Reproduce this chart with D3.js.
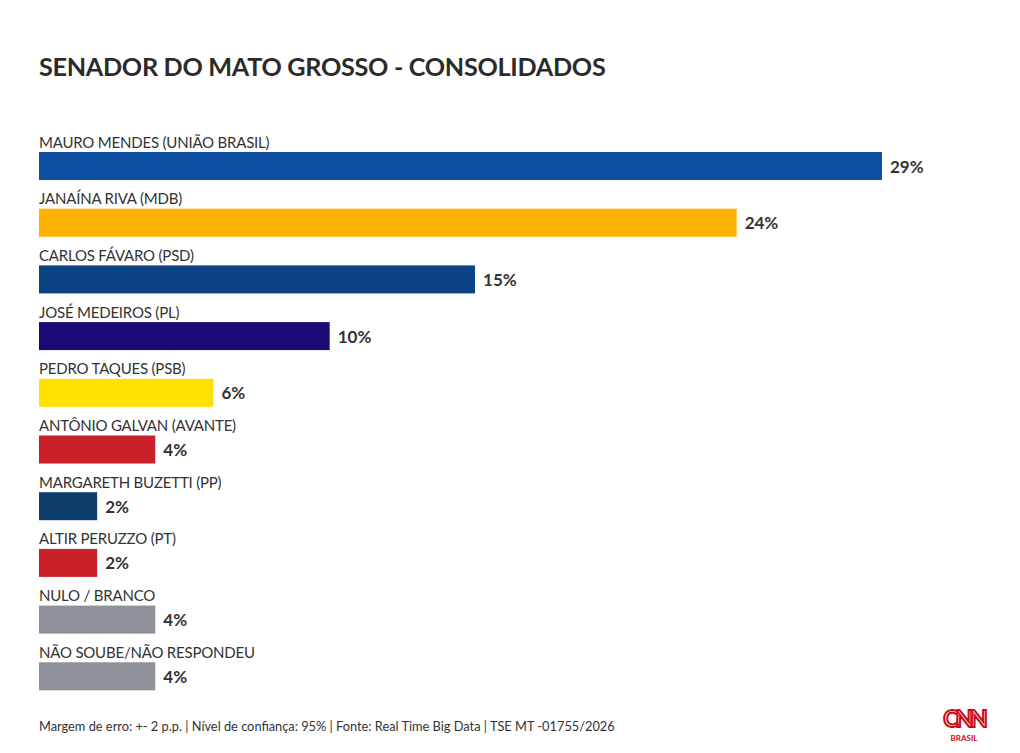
<!DOCTYPE html>
<html><head><meta charset="utf-8">
<script src="https://cdn.jsdelivr.net/npm/d3@7"></script>
<style>
html,body{margin:0;padding:0;background:#fff;}
svg{display:block;}
text{font-family:"Lato","Open Sans",sans-serif;}
</style></head>
<body>
<svg id="chart" width="1020" height="753"></svg>
<script>
const title = "SENADOR DO MATO GROSSO - CONSOLIDADOS";
const categories = [
  "MAURO MENDES (UNIÃO BRASIL)",
  "JANAÍNA RIVA (MDB)",
  "CARLOS FÁVARO (PSD)",
  "JOSÉ MEDEIROS (PL)",
  "PEDRO TAQUES (PSB)",
  "ANTÔNIO GALVAN (AVANTE)",
  "MARGARETH BUZETTI (PP)",
  "ALTIR PERUZZO (PT)",
  "NULO / BRANCO",
  "NÃO SOUBE/NÃO RESPONDEU"
];
const values = [29, 24, 15, 10, 6, 4, 2, 2, 4, 4];
const colors = ["#0d4ea1", "#feb300", "#0b4384", "#1b0b77", "#ffe100", "#c9202a", "#0f3d6c", "#c9202a", "#8f9198", "#8f9198"];
const footnote = "Margem de erro: +- 2 p.p. | Nível de confiança: 95% | Fonte: Real Time Big Data | TSE MT -01755/2026";

const svg = d3.select("#chart");
const left = 39;
const x = d3.scaleLinear().domain([0, 29]).range([left, 882]);
const y = d3.scaleBand().domain(categories).range([152, 690.3]).paddingInner(0.506).paddingOuter(0);

svg.append("text").attr("x", 39).attr("y", 76)
  .attr("font-size", 25.2).attr("font-weight", 700).attr("fill", "#2b2b2b")
  .attr("letter-spacing", -0.3)
  .text(title);

const rows = svg.append("g").selectAll("g.row").data(categories).enter().append("g").attr("class","row");

rows.append("rect")
  .attr("x", x(0))
  .attr("y", d => y(d))
  .attr("width", (d, i) => x(values[i]) - x(0))
  .attr("height", y.bandwidth())
  .attr("fill", (d, i) => colors[i]);

rows.append("text")
  .attr("x", left)
  .attr("y", d => y(d) - 4.5)
  .attr("font-size", 15).attr("fill", "#333")
  .attr("letter-spacing", -0.2)
  .text(d => d);

rows.append("text")
  .attr("x", (d, i) => x(values[i]) + 8)
  .attr("y", d => y(d) + 20.5)
  .attr("font-size", 17).attr("font-weight", 700).attr("fill", "#333")
  .text((d, i) => values[i] + "%");

svg.append("text").attr("x", 39).attr("y", 731)
  .attr("font-size", 12.8).attr("fill", "#333").text(footnote);

// CNN Brasil logo
const logo = svg.append("g").attr("transform", "translate(964,0)");
logo.append("text").attr("x", 0).attr("y", 727).attr("text-anchor", "middle")
  .attr("font-size", 23).attr("font-weight", 700).attr("fill", "none")
  .attr("stroke", "#cc0a16").attr("stroke-width", 2).attr("letter-spacing", -3)
  .text("CNN");
logo.append("text").attr("x", 0).attr("y", 741).attr("text-anchor", "middle")
  .attr("font-size", 8).attr("font-weight", 700).attr("fill", "#cc0a16")
  .text("BRASIL");
</script>
</body></html>
